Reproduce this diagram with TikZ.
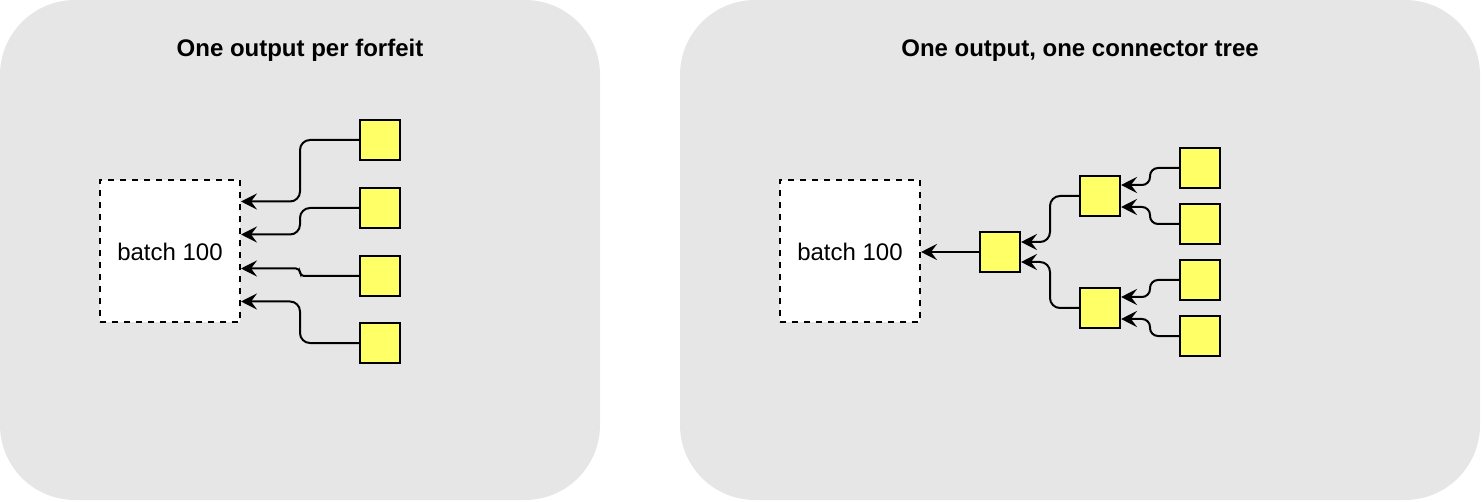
\documentclass[tikz,border=0pt]{standalone}
\usepackage{fontspec}
\setmainfont{Liberation Sans}
\usetikzlibrary{arrows.meta,calc}

\definecolor{panelgray}{HTML}{E6E6E6}
\definecolor{itemyellow}{HTML}{FFFF66}

\tikzset{
  panel/.style={fill=panelgray, draw=none, rounded corners=75pt},
  title/.style={font=\bfseries\fontsize{24}{28}\selectfont, anchor=base},
  batchbox/.style={draw, line width=2pt, dash pattern=on 6pt off 6pt, fill=white,
    minimum width=140pt, minimum height=142pt, inner sep=0pt,
    font=\fontsize{24}{28}\selectfont},
  item/.style={draw, line width=2pt, fill=itemyellow, minimum size=40pt, inner sep=0pt},
  link/.style={line width=2pt, rounded corners=10pt,
    -{Stealth[length=16pt,width=16pt,inset=6pt]}},
  % horizontal, vertical at half way, horizontal
  elbow/.style={to path={let \p1=(\tikztostart), \p2=(\tikztotarget) in
    -- ({0.5*\x1+0.5*\x2},\y1) -- ({0.5*\x1+0.5*\x2},\y2) -- (\tikztotarget)}},
}

\begin{document}
\begin{tikzpicture}[x=1pt,y=-1pt]
  \useasboundingbox (0,0) rectangle (1482,502);
  % the two panels
  \fill[panel] (0,0) rectangle (600,500);
  \fill[panel] (680,0) rectangle (1480,500);
  \node[title] (titleA) at (300,57) {One output per forfeit};
  \node[title] (titleB) at (1080,57) {One output, one connector tree};

  % left: every forfeit goes straight into the batch
  \node[batchbox] (batchA) at (170,251.5) {batch 100};
  \foreach \i/\y/\d/\r in {1/140/-50/10pt, 2/208/-17/10pt, 3/276/17/4pt, 4/343/50/10pt} {
    \node[item] (fA\i) at (380,\y) {};
    \coordinate (inA\i) at ($(batchA.east)+(0,\d)$);
    \draw[link, rounded corners=\r] (fA\i.west) to[elbow] (inA\i);
  }

  % right: forfeits are merged in a tree first
  \node[batchbox] (batchB) at (850,251.5) {batch 100};
  \node[item] (root) at (1000,252) {};
  \node[item] (midA) at (1100,196) {};
  \node[item] (midB) at (1100,308) {};
  \foreach \i/\y in {1/168, 2/224, 3/280, 4/336} {
    \node[item] (leaf\i) at (1200,\y) {};
  }
  \draw[link] (root.west) -- (root.west -| batchB.east);

  \coordinate (inR1) at ($(root.east)+(0,-10)$);
  \coordinate (inR2) at ($(root.east)+(0,10)$);
  \draw[link] (midA.west) to[elbow] (inR1);
  \draw[link] (midB.west) to[elbow] (inR2);

  \foreach \m/\a/\b in {midA/1/2, midB/3/4} {
    \coordinate (\m up) at ($(\m.east)+(0,-11)$);
    \coordinate (\m dn) at ($(\m.east)+(0,11)$);
    \draw[link, rounded corners=8pt] (leaf\a.west) to[elbow] (\m up);
    \draw[link, rounded corners=8pt] (leaf\b.west) to[elbow] (\m dn);
  }
\end{tikzpicture}
\end{document}
